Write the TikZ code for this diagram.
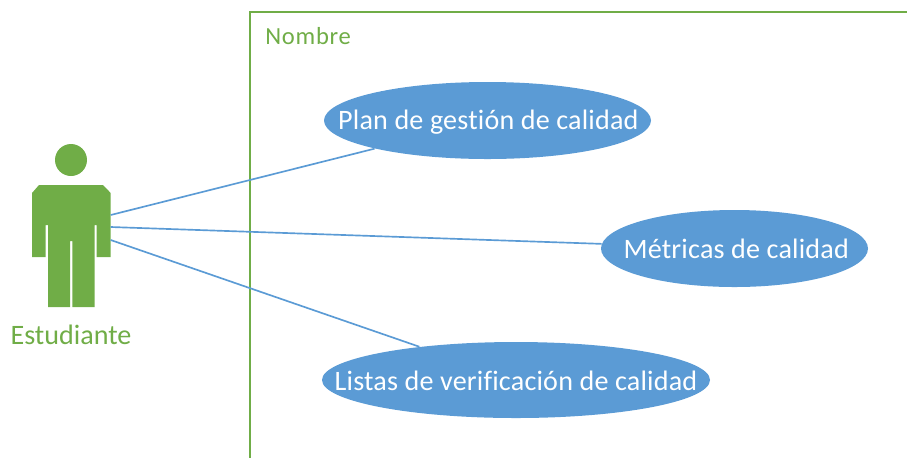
\documentclass[tikz,border=0pt]{standalone}
\usepackage{fontspec}
\setmainfont[Ligatures=CommonOff]{Carlito}
\usepackage{xcolor}
\usetikzlibrary{
    shapes.geometric,
    positioning
}
\definecolor{actorgreen}{HTML}{70AD47}
\definecolor{caseblue}{HTML}{5B9BD5}
\tikzset{usecase/.style={ellipse, fill=caseblue, text=white, inner sep=0pt, text height=10pt, text depth=0pt, font=\fontsize{16}{18}\selectfont\addfontfeatures{LetterSpace=0.7}}}
\tikzset{greenlabel/.style={text=actorgreen, inner sep=0pt}}
\tikzset{assoc/.style={draw=caseblue, line width=0.95pt}}

\begin{document}
\begin{tikzpicture}[x=0.02cm, y=-0.02cm]
    \useasboundingbox (0, 0) rectangle (907, 458);
    % system frame
    \draw[actorgreen, line width=1.1pt] (907, 12) -- (250, 12) -- (250, 458);
    \node[greenlabel, anchor=west, font=\fontsize{14}{15}\selectfont\addfontfeatures{LetterSpace=3}] (sysname) at (265, 36.5) {Nombre};
    % actor
    \fill[actorgreen] (71, 160) circle (16);
    \fill[actorgreen] (39, 185) -- (103, 185) -- (110.7, 193) -- (110.7, 257) -- (96.7, 257) -- (96.7, 225) -- (94.5, 225)
        -- (94.5, 307) -- (72.3, 307) -- (72.3, 241) -- (70, 241) -- (70, 307) -- (48, 307) -- (48, 225) -- (45.7, 225)
        -- (45.7, 257) -- (32, 257) -- (32, 193) -- cycle;
    \coordinate (armtop) at (110.7, 215);
    \coordinate (armmid) at (110.7, 227);
    \coordinate (armlow) at (110.7, 240);
    \node[greenlabel, font=\fontsize{16}{18}\selectfont] (actorname) at (71, 335) {Estudiante};
    % use cases
    \node[usecase, minimum width=327*0.02cm, minimum height=77*0.02cm] (plan) at (487.5, 120.5) {\makebox[0pt]{\hspace{1pt}Plan de gestión de calidad}};
    \node[usecase, text height=11pt, minimum width=267*0.02cm, minimum height=77*0.02cm] (metricas) at (734.5, 248.5) {\makebox[0pt]{\hspace{2pt}Métricas de calidad}};
    \node[usecase, text height=12pt, minimum width=388*0.02cm, minimum height=76*0.02cm] (listas) at (516, 380) {\makebox[0pt]{Listas de verificación de calidad}};
    % associations
    \draw[assoc] (armtop) -- (plan.194);
    \draw[assoc] (armmid) -- (metricas.178);
    \draw[assoc] (armlow) -- (listas.161);
\end{tikzpicture}
\end{document}
